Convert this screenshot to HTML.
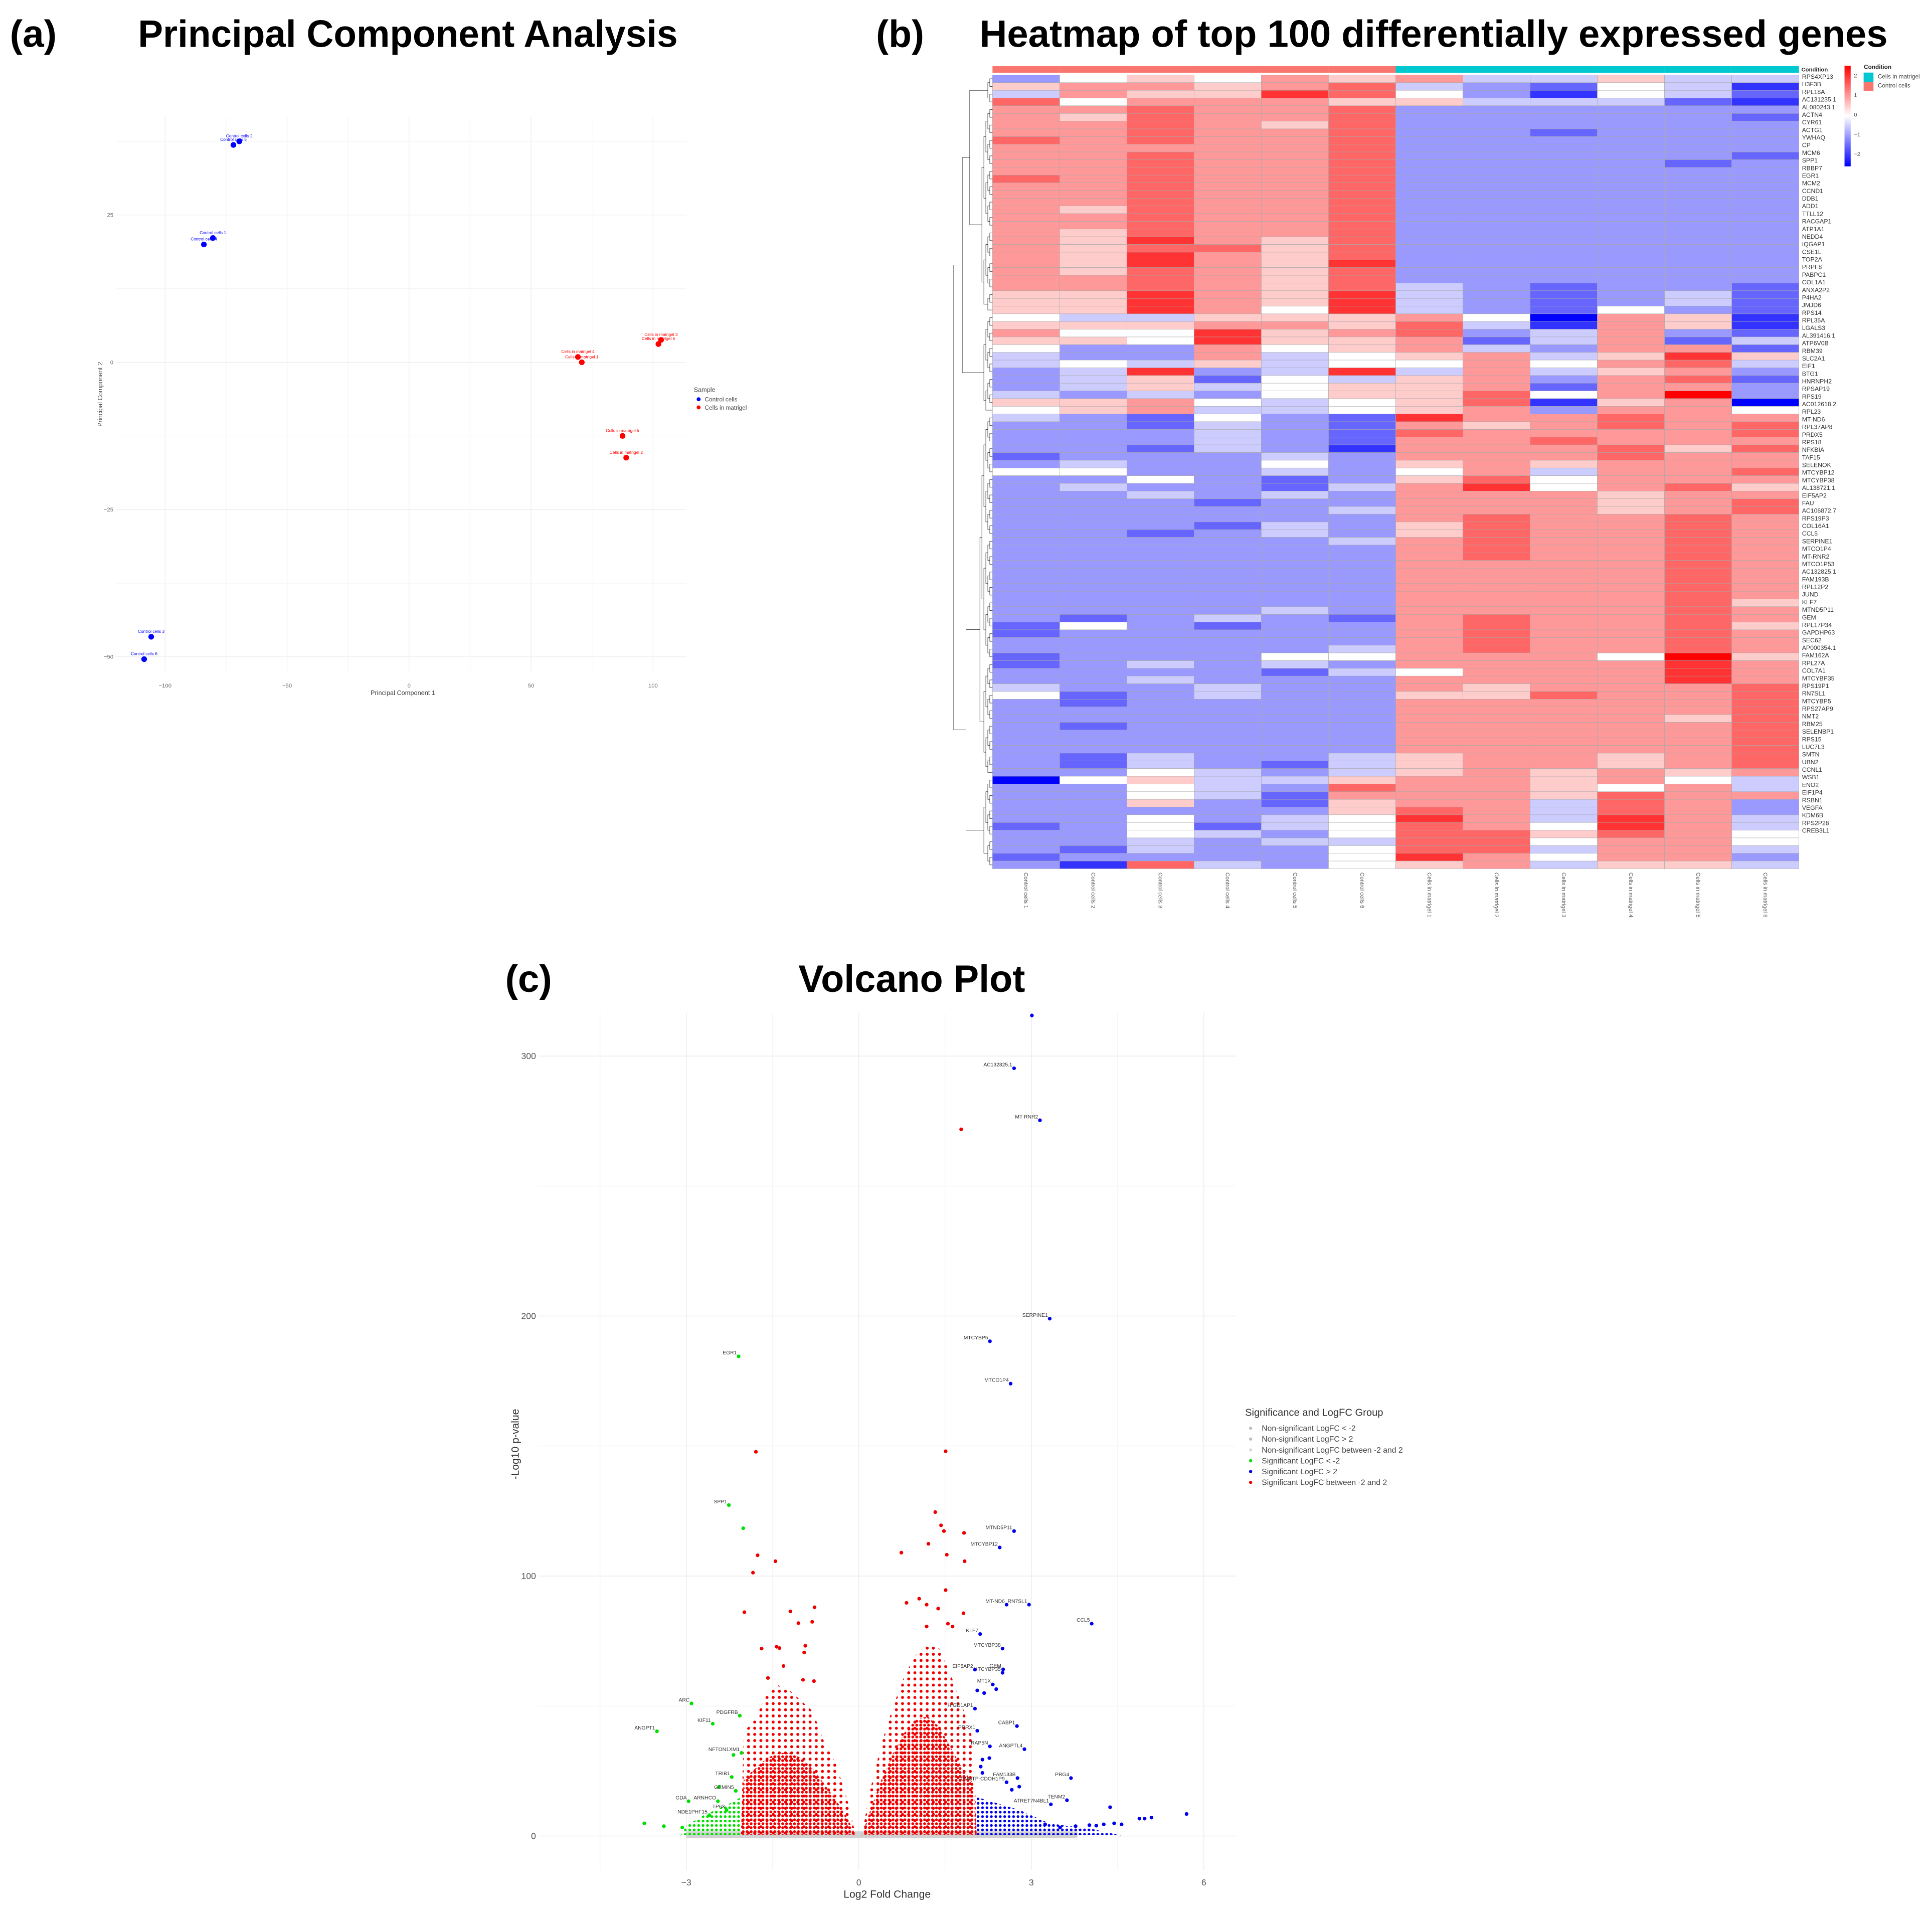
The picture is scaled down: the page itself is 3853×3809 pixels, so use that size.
<!DOCTYPE html>
<html><head><meta charset="utf-8"><title>PCA, Heatmap and Volcano Plot</title>
<style>
html,body{margin:0;padding:0;background:#fff;}
svg{display:block;}
text{font-family:"Liberation Sans",sans-serif;}
</style></head>
<body>
<svg id="fig" width="3853" height="3809" viewBox="0 0 1568 1550" preserveAspectRatio="none">
<defs>
<pattern id="redDots" width="3.2" height="3.2" patternUnits="userSpaceOnUse"><circle cx="1.6" cy="1.6" r="1.15" fill="#ee0000"/></pattern>
<pattern id="redDots2" width="5" height="5" patternUnits="userSpaceOnUse"><circle cx="2.5" cy="2.5" r="1.2" fill="#ee0000"/></pattern>
<pattern id="blueDots" width="3.6" height="3.6" patternUnits="userSpaceOnUse"><circle cx="1.8" cy="1.8" r="1.1" fill="#0000ee"/></pattern>
<pattern id="greenDots" width="3.6" height="3.6" patternUnits="userSpaceOnUse"><circle cx="1.8" cy="1.8" r="1.1" fill="#00e000"/></pattern>
</defs>
<rect x="0" y="0" width="1568" height="1550" fill="#fff"/>
<text x="8" y="38" font-size="31" font-weight="bold" textLength="38" lengthAdjust="spacingAndGlyphs">(a)</text>
<text x="112" y="38" font-size="31" font-weight="bold" textLength="438" lengthAdjust="spacingAndGlyphs">Principal Component Analysis</text>
<text x="711" y="38" font-size="31" font-weight="bold" textLength="39" lengthAdjust="spacingAndGlyphs">(b)</text>
<text x="795" y="38" font-size="31" font-weight="bold" textLength="737" lengthAdjust="spacingAndGlyphs">Heatmap of top 100 differentially expressed genes</text>
<text x="410" y="805" font-size="31" font-weight="bold" textLength="38" lengthAdjust="spacingAndGlyphs">(c)</text>
<text x="648" y="805" font-size="31" font-weight="bold" textLength="184" lengthAdjust="spacingAndGlyphs">Volcano Plot</text>
<g id="pca"></g>
<g id="heat"></g>
<g id="volc"></g>
</svg>
<script>
// ===== PCA data =====
const pcaLabels = ["Control cells 2","Control cells 5","Control cells 1","Control cells 4","Control cells 3","Control cells 6","Cells in matrigel 4","Cells in matrigel 1","Cells in matrigel 3","Cells in matrigel 6","Cells in matrigel 5","Cells in matrigel 2"];
const pcaPC1 = [-69.6,-72,-80.4,-84.1,-105.7,-108.6,69.2,70.8,103.3,102.2,87.5,89];
const pcaPC2 = [37.5,36.9,21.1,20.0,-46.6,-50.4,0.9,0,3.8,3.1,-12.5,-16.2];
const pcaGroup = ["c","c","c","c","c","c","m","m","m","m","m","m"];
const pcaXTicks = [-100,-50,0,50,100];
const pcaYTicks = [25,0,-25,-50];

// ===== Heatmap data =====
const heatSamples = ["Control cells 1","Control cells 2","Control cells 3","Control cells 4","Control cells 5","Control cells 6","Cells in matrigel 1","Cells in matrigel 2","Cells in matrigel 3","Cells in matrigel 4","Cells in matrigel 5","Cells in matrigel 6"];
const heatCondition = ["c","c","c","c","c","c","m","m","m","m","m","m"];
const heatGenes = ["RPS4XP13","H3F3B","RPL18A","AC131235.1","AL080243.1","ACTN4","CYR61","ACTG1","YWHAQ","CP","MCM6","SPP1","RBBP7","EGR1","MCM2","CCND1","DDB1","ADD1","TTLL12","RACGAP1","ATP1A1","NEDD4","IQGAP1","CSE1L","TOP2A","PRPF8","PABPC1","COL1A1","ANXA2P2","P4HA2","JMJD6","RPS14","RPL35A","LGALS3","AL391416.1","ATP6V0B","RBM39","SLC2A1","EIF1","BTG1","HNRNPH2","RPSAP19","RPS19","AC012618.2","RPL23","MT-ND6","RPL37AP8","PRDX5","RPS18","NFKBIA","TAF15","SELENOK","MTCYBP12","MTCYBP38","AL138721.1","EIF5AP2","FAU","AC106872.7","RPS19P3","COL16A1","CCL5","SERPINE1","MTCO1P4","MT-RNR2","MTCO1P53","AC132825.1","FAM193B","RPL12P2","JUND","KLF7","MTND5P11","GEM","RPL17P34","GAPDHP63","SEC62","AP000354.1","FAM162A","RPL27A","COL7A1","MTCYBP35","RPS19P1","RN7SL1","MTCYBP5","RPS27AP9","NMT2","RBM25","SELENBP1","RPS15","LUC7L3","SMTN","UBN2","CCNL1","WSB1","ENO2","EIF1P4","RSBN1","VEGFA","KDM6B","RPS2P28","CREB3L1"];
// z-score per row, letters A..K = -2.5..2.5 step 0.5
const heatRows = [
"DFGFHGHEEGEE","GHHGHIEDCFEB","EHGGJIFDBFEC","IFHHHGGEEECB",
"HHIHHIDDDDDD","HGIHHIDDDDDC","HHIHGIDDDDDD","HHIHHIDDCDDD","IHIHHIDDDDDD","HHHHHIDDDDDD","HHIHHIDDDDDC","HHIHHIDDDDCD","HHIHHIDDDDDD","IHIHHIDDDDDD","HHIHHIDDDDDD","HHIHHIDDDDDD","HHIHHIDDDDDD","HGIHHIDDDDDD","HHIHHIDDDDDD","HHIHHIDDDDDD","HGIHHIDDDDDD","HGJHGIDDDDDD","HGIIGIDDDDDD","HGJHGIDDDDDD","HGJHGJDDDDDD","HGIHGIDDDDDD","HHIHGIDDDDDD","HHIHGIEDCDDC","GGJHGJEDCDEC","GGJHGJEDCDEC","GGJHFJEDCFDC",
"FEEGGGHFAHGB","GGGHHGIEBHGB","HFFJGHIDEHDC","GGFJGGHCEHCE","FDDHFGHEDHHC","EDDHEFGHEGJG","EFEGEFFHFHIE","DEJDEJEHEGHD","DEGCFEGHDHIC","DEGEFGGHCHHD","EDEDFGGIFHKD","GGHFEFGIBGHA","FGHEEFGHDHHF",
"EDCFDCJHHIHH","DDCEDCHGHIHI","DDDEDCIHHHHI","DDDEDCHHIHHH","DDCEDBHHHIGI","CDDDEDHHHIHH","DEDDFDGHGHHH","FFDDEDFHEHHI","DDFDCDGIFHHH","DEDDCEHJFHIG","DDEDEDHHHGHH","DDDCDDHHHGHI","DDDDDEHHHGHI","DDDDDDHIHHIH","DDDCEDGIHHIH","DDCDEDGIHHIH","DDDDDEHIHHIH","DDDDDDHIHHIH","DDDDDDHIHHIH","DDDDDDHHHHIH","DDDDDDHHHHIH","DDDDDDHHHHIH","DDDDDDHHHHIH","DDDDDDHHHHIH","DDDDDDHHHHIG","DDDDEDHHHHIH","DCDEDCHIHHIH","CFDCDDHIHHIG","CDDDDDHIHHIH","DDDDDDHIHHIH","DDDDDEHIHHIH","CDDDFFHHHFKG","CDEDEDHHHHJH","DDDDCEFHHHJH","DDEDDDHHHHJH","EDDEDDHGHHHI","FCDEDDGGIHHI","DCDDDDHHHHHI","DDDDDDHHHHHI","DDDDDDHHHHGI","DCDDDDHHHHHI","DDDDDDHHHHHI","DDDDDDHHHHHI","DDDDDDHHHHHI","DCEDDEGHHGHI","DCEDCEGHHGHI","DDFEDEGHGHGH",
"AFGEEGHHGHFE","DDFEDIHHGFHE","DDFECHHHGIHH","DDGDCGHHEIHD","DDDDDGIHEIHD","DDFDEFJHEJHE","CDFCEFIHFJHE","DDFEDFIIGIHF","DDEDEEIIFHHF","DCEDDFIIEHHE","CDDDDFJHFHHD","DBIEDFGHEGGE"];
const heatBlocks = [4,27,13,47,12]; // dendrogram cluster sizes
const heatScaleTicks = [2,1,0,-1,-2];

// ===== Volcano data =====
const volcXTicks = [-3,0,3,6];
const volcYTicks = [0,100,200,300];
const volcLFC = [3.01,2.70,3.15,3.32,2.28,2.64,2.70,2.45,2.57,2.96,4.05,2.11,2.50,2.51,2.50,2.02,2.33,2.06,2.18,2.39,2.02,2.75,2.06,2.28,2.88,2.27,2.15,2.12,2.15,2.76,3.69,2.57,2.79,2.66,3.62,3.34,4.37,5.70,5.09,4.97,4.88,4.57,4.44,4.26,4.13,4.01,3.77,3.50,3.24,
-2.09,-2.26,-2.91,-2.07,-2.54,-3.51,-2.04,-2.18,-2.21,-2.43,-2.14,-2.96,-2.45,-3.73,-3.39,-3.07,-2.60,-2.30,
1.78,-1.79,1.51,-2.01,1.33,1.43,1.48,1.83,1.21,0.74,1.53,1.84,-1.76,-1.45,-1.84,1.51,1.05,0.83,1.18,1.38,1.82,-1.99,-1.19,-0.77,-1.05,-0.81,1.18,1.55,1.63,-1.69,-1.43,-1.38,-0.93,-0.95,-1.31,-1.58,-0.97,-0.78];
const volcP = [315.6,295.3,275.3,199,190.3,174,117.3,111,89,89,81.7,77.7,72.1,64.1,62.8,64,58.3,56,55,56.5,49,42.3,40.5,34.5,33.4,30,29.4,26.7,24.3,22.3,22.3,20.7,19,17.8,13.8,12.2,11.1,8.5,7.1,6.7,6.7,4.5,4.9,4.5,4,4.2,3.8,3.3,4.5,
184.5,127.3,51,46.3,43.2,40.3,32,31.2,22.7,18.9,17.4,13.4,13.4,4.9,3.8,3.3,8,10,
271.8,147.8,148,118.4,124.6,119.5,117.3,116.6,112.4,109,108.2,105.7,108,105.7,101.3,94.6,91.3,89.7,89,87.5,85.7,86.1,86.4,88,81.9,82.4,80.6,81.7,80.6,72.1,72.8,72.3,73.2,70.6,65.4,60.8,60.1,59.6];
const volcLabel = ["","AC132825.1","MT-RNR2","SERPINE1","MTCYBP5","MTCO1P4","MTND5P11","MTCYBP12","MT-ND6","RN7SL1","CCL5","KLF7","MTCYBP38","GEM","MTCYBP35","EIF5AP2","MT1X","","","","HIGD1AP1","CABP1","PRRX1","RAP5N","ANGPTL4","","","","","FAM133B","PRG4","GMATP-CDOH1P9","","","TENM2","ATRET7N4BL1","","","","","","","","","","","","","",
"EGR1","SPP1","ARC","PDGFRB","KIF11","ANGPT1","NFTON1XM1","","TRIB1","","GEMIN5","GDA","ARNHCO","","","","NDE1PHF15","TP63",
"","","","","","","","","","","","","","","","","","","","","","","","","","","","","","","","","","","","","",""];
// dense-cloud envelopes (-log10 p per logFC bin): solid core and sparse outer extent
const leftCloudX = [-2.05,-2.0,-1.8,-1.6,-1.4,-1.2,-1.0,-0.8,-0.6,-0.4,-0.2,-0.05];
const leftCoreTop = [0,22,26,30,32,32,30,26,20,14,7,0];
const leftCloudTop = [0,40,45,55,58,56,52,48,36,28,14,0];
const rightCloudX = [0.05,0.2,0.4,0.6,0.8,1.0,1.2,1.4,1.6,1.8,2.0,2.05];
const rightCoreTop = [0,10,22,32,40,45,46,42,34,26,20,0];
const rightCloudTop = [0,18,36,50,62,70,74,72,62,50,36,0];
const greenCloudX = [-3.1,-3.0,-2.7,-2.4,-2.2,-2.05];
const greenCloudTop = [0,4,8,11,13,15];
const blueCloudX = [2.05,2.2,2.5,2.8,3.0,3.3,3.6,4.0,4.6];
const blueCloudTop = [15,14,12,10,8,5,4,3,0];
const legendEntries = ["Non-significant LogFC < -2","Non-significant LogFC > 2","Non-significant LogFC between -2 and 2","Significant LogFC < -2","Significant LogFC > 2","Significant LogFC between -2 and 2"];
const legendColors = ["#bdbdbd","#bdbdbd","#d9d9d9","#00e000","#0000ee","#ee0000"];

const svg = document.getElementById('fig');
const NS = svg.namespaceURI;
function mk(tag, attrs, parent){
  const el = document.createElementNS(NS, tag);
  for (const k in attrs) el.setAttribute(k, attrs[k]);
  parent.appendChild(el);
  return el;
}

// ================= PCA =================
(function(){
  const g = document.getElementById('pca');
  const px = v => 332 + 1.98*v;
  const py = v => 294 - 4.78*v;
  const x0 = px(-120), x1 = px(113.7), y0 = py(41.7), y1 = py(-52.5);
  for (let v = -100; v <= 100; v += 25) {
    const major = v % 50 === 0;
    const l = mk('line', {x1:px(v), x2:px(v), y1:y0, y2:y1, stroke: major ? '#ebebeb' : '#f4f4f4', 'stroke-width':0.5}, g);
    
    
  }
  for (let v = -50; v <= 37.5; v += 12.5) {
    const major = v % 25 === 0;
    const l = mk('line', {x1:x0, x2:x1, y1:py(v), y2:py(v), stroke: major ? '#ebebeb' : '#f4f4f4', 'stroke-width':0.5}, g);
    
    
  }
  pcaXTicks.forEach(v => {
    const t = mk('text', {x:px(v), y:558, 'font-size':4.6, fill:'#666', 'text-anchor':'middle'}, g);
    t.textContent = v === 0 ? '0' : String(v).replace('-', '\u2212');
    
    
  });
  pcaYTicks.forEach(v => {
    const t = mk('text', {x:92, y:py(v)+1.6, 'font-size':4.6, fill:'#666', 'text-anchor':'end'}, g);
    t.textContent = String(v).replace('-', '\u2212');
    
    
  });
  const xt = mk('text', {x:327, y:564, 'font-size':5.2, fill:'#444', 'text-anchor':'middle'}, g);
  xt.textContent = 'Principal Component 1';
  
  
  const yt = mk('text', {x:0, y:0, 'font-size':5.2, fill:'#444', 'text-anchor':'middle', transform:'translate(83,320) rotate(-90)'}, g);
  yt.textContent = 'Principal Component 2';
  
  
  pcaLabels.forEach((lab, i) => {
    const col = pcaGroup[i] === 'c' ? '#0000ff' : '#ff0000';
    const c = mk('circle', {cx:px(pcaPC1[i]), cy:py(pcaPC2[i]), r:2.3, fill:col}, g);
    
    
    const t = mk('text', {x:px(pcaPC1[i]), y:py(pcaPC2[i])-3.2, 'font-size':3.4, fill:col, 'text-anchor':'middle'}, g);
    t.textContent = lab;
    
    
  });
  const lt = mk('text', {x:563, y:318, 'font-size':5.2, fill:'#444'}, g);
  lt.textContent = 'Sample';
  
  
  [['Control cells','#0000ff'],['Cells in matrigel','#ff0000']].forEach((e, i) => {
    const d = mk('circle', {cx:567, cy:324+i*6.6, r:1.6, fill:e[1]}, g);
    
    
    const t = mk('text', {x:572, y:325.8+i*6.6, 'font-size':4.8, fill:'#444'}, g);
    t.textContent = e[0];
    
    
  });
})();

// ================= Heatmap =================
(function(){
  const g = document.getElementById('heat');
  const left = 805.5, right = 1460, top = 60.8, bottom = 705;
  const nC = heatSamples.length, nR = heatRows.length;
  const cw = (right-left)/nC, rh = (bottom-top)/nR;
  const val = ch => (ch.charCodeAt(0) - 65)*0.5 - 2.5;
  function color(v){
    const t = Math.min(1, Math.abs(v)/2.5);
    const k = Math.round(255*(1-t));
    return v >= 0 ? `rgb(255,${k},${k})` : `rgb(${k},${k},255)`;
  }
  heatCondition.forEach((c, j) => {
    const r = mk('rect', {x:left+j*cw, y:53.7, width:cw, height:5.3, fill: c === 'c' ? '#f8766d' : '#00c8d0'}, g);
    
    
  });
  const ct = mk('text', {x:1462, y:58, 'font-size':4.6, 'font-weight':'bold', fill:'#222'}, g);
  ct.textContent = 'Condition';
  
  
  heatRows.forEach((row, i) => {
    for (let j = 0; j < nC; j++) {
      const r = mk('rect', {x:left+j*cw, y:top+i*rh, width:cw, height:rh, fill:color(val(row[j])), stroke:'#a8a8a8', 'stroke-width':0.25}, g);
      
      
    }
  });
  heatGenes.forEach((gn, i) => {
    const t = mk('text', {x:1462.5, y:63.9+i*6.18, 'font-size':5.0, fill:'#333'}, g);
    t.textContent = gn;
    
    
  });
  heatSamples.forEach((s, j) => {
    const t = mk('text', {x:0, y:0, 'font-size':4.6, fill:'#555', transform:`translate(${left+j*cw+cw/2-1.5},708) rotate(90)`}, g);
    t.textContent = s;
    
    
  });
  // dendrogram
  let start = 0;
  const trunk = [];
  heatBlocks.forEach(sz => {
    let nodes = [];
    for (let i = start; i < start+sz; i++) nodes.push({y: top + (i+0.5)*rh, x: left});
    let depth = 1;
    while (nodes.length > 1) {
      const nx = [];
      for (let k = 0; k < nodes.length; k += 2) {
        if (k+1 < nodes.length) {
          const a = nodes[k], b = nodes[k+1];
          const hx = left - 1.6*depth - 0.6;
          const p = mk('path', {d:`M${a.x},${a.y}H${hx}V${b.y}H${b.x}`, fill:'none', stroke:'#333', 'stroke-width':0.35}, g);
          
          
          nx.push({x:hx, y:(a.y+b.y)/2});
        } else nx.push(nodes[k]);
      }
      nodes = nx; depth++;
    }
    trunk.push(nodes[0]);
    start += sz;
  });
  function join(a, b, hx){
    const p = mk('path', {d:`M${a.x},${a.y}H${hx}V${b.y}H${b.x}`, fill:'none', stroke:'#333', 'stroke-width':0.35}, g);
    
    
    return {x:hx, y:(a.y+b.y)/2};
  }
  const n01 = join(trunk[0], trunk[1], 787);
  const n012 = join(n01, trunk[2], 781);
  const n34 = join(trunk[3], trunk[4], 784);
  join(n012, n34, 774);
  // colour scale legend
  const defs = mk('defs', {}, g);
  const lg = mk('linearGradient', {id:'hg', x1:0, y1:0, x2:0, y2:1}, defs);
  [['0','#ff0000'],['0.5','#ffffff'],['1','#0000ff']].forEach(s => mk('stop', {offset:s[0], 'stop-color':s[1]}, lg));
  const cb = mk('rect', {x:1497, y:53.3, width:5, height:81.7, fill:'url(#hg)'}, g);
  
  
  const scaleY = v => 93.1 - v*15.9;
  heatScaleTicks.forEach(v => {
    const t = mk('text', {x:1504.6, y:scaleY(v)+1.6, 'font-size':4.6, fill:'#555'}, g);
    t.textContent = v < 0 ? '\u2212' + Math.abs(v) : String(v);
    
    
  });
  const lt = mk('text', {x:1512.7, y:56, 'font-size':4.8, 'font-weight':'bold', fill:'#222'}, g);
  lt.textContent = 'Condition';
  
  
  [['Cells in matrigel','#00c8d0'],['Control cells','#f8766d']].forEach((e, i) => {
    const r = mk('rect', {x:1512.5, y:58.9+i*7.5, width:8, height:7.5, fill:e[1]}, g);
    
    
    const t = mk('text', {x:1524, y:63.6+i*7.5, 'font-size':4.8, fill:'#444'}, g);
    t.textContent = e[0];
    
    
  });
})();

// ================= Volcano =================
(function(){
  const g = document.getElementById('volc');
  const vx = v => 697 + 46.67*v;
  const vy = v => 1490 - 2.11*v;
  const xMin = -5.57, xMax = 6.56, yMin = -13, yMax = 316.6;
  const L = vx(xMin), R = vx(xMax), T = vy(yMax), B = vy(yMin);
  for (let v = -4.5; v <= 6; v += 1.5) {
    const major = Math.abs(v % 3) < 1e-9;
    const l = mk('line', {x1:vx(v), x2:vx(v), y1:T, y2:B, stroke: major ? '#ebebeb' : '#f5f5f5', 'stroke-width':0.6}, g);
    
    
  }
  for (let v = 0; v <= 300; v += 50) {
    const major = v % 100 === 0;
    const l = mk('line', {x1:L, x2:R, y1:vy(v), y2:vy(v), stroke: major ? '#ebebeb' : '#f5f5f5', 'stroke-width':0.6}, g);
    
    
  }
  volcXTicks.forEach(v => {
    const t = mk('text', {x:vx(v), y:1530, 'font-size':7.2, fill:'#555', 'text-anchor':'middle'}, g);
    t.textContent = v < 0 ? '\u2212' + Math.abs(v) : String(v);
    
    
  });
  volcYTicks.forEach(v => {
    const t = mk('text', {x:435, y:vy(v)+2.5, 'font-size':7.2, fill:'#555', 'text-anchor':'end'}, g);
    t.textContent = String(v);
    
    
  });
  const xt = mk('text', {x:720, y:1540, 'font-size':8.6, fill:'#333', 'text-anchor':'middle'}, g);
  xt.textContent = 'Log2 Fold Change';
  
  
  const yt = mk('text', {x:0, y:0, 'font-size':8.6, fill:'#333', 'text-anchor':'middle', transform:'translate(421,1172) rotate(-90)'}, g);
  yt.textContent = '-Log10 p-value';
  
  

  function cloud(xs, tops, fill, name, sw){
    let d = `M${vx(xs[0])},${vy(0.5)}`;
    xs.forEach((x, i) => { d += `L${vx(x)},${vy(tops[i])}`; });
    d += `L${vx(xs[xs.length-1])},${vy(0.5)}Z`;
    const p = mk('path', {d:d, fill:fill, stroke: sw ? fill : 'none', 'stroke-width':sw || 0, 'stroke-linejoin':'round'}, g);
    
    
  }
  const band = mk('rect', {x:vx(-3.0), y:vy(1.8), width:vx(3.8)-vx(-3.0), height:vy(-0.8)-vy(1.8), fill:'#d2d2d2'}, g);
  
  
  cloud(greenCloudX, greenCloudTop, 'url(#greenDots)', 'significant-down-cloud');
  cloud(blueCloudX, blueCloudTop, 'url(#blueDots)', 'significant-up-cloud');
  cloud(leftCloudX, leftCloudTop, 'url(#redDots2)', 'significant-mid-cloud-left-sparse');
  cloud(rightCloudX, rightCloudTop, 'url(#redDots2)', 'significant-mid-cloud-right-sparse');
  cloud(leftCloudX, leftCoreTop, 'url(#redDots)', 'significant-mid-cloud-left');
  cloud(rightCloudX, rightCoreTop, 'url(#redDots)', 'significant-mid-cloud-right');
  volcLFC.forEach((x, i) => {
    const y = Math.min(volcP[i], yMax);
    const col = x < -2 ? '#00e000' : (x > 2 ? '#0000ee' : '#ee0000');
    const c = mk('circle', {cx:vx(x), cy:vy(y), r:1.5, fill:col}, g);
    
    
    if (volcLabel[i]) {
      const t = mk('text', {x:vx(x)-1.5, y:vy(y)-1.5, 'font-size':4.2, fill:'#333', 'text-anchor':'end'}, g);
      t.textContent = volcLabel[i];
      
      
    }
  });
  const lt = mk('text', {x:1010.5, y:1149, 'font-size':8.2, fill:'#333'}, g);
  lt.textContent = 'Significance and LogFC Group';
  
  
  legendEntries.forEach((e, i) => {
    const yy = 1159 + i*8.8;
    const d = mk('circle', {cx:1015, cy:yy, r:1.3, fill:legendColors[i]}, g);
    
    
    const t = mk('text', {x:1024, y:yy+2.2, 'font-size':6.4, fill:'#444'}, g);
    t.textContent = e;
    
    
  });
})();
</script>
</body></html>
